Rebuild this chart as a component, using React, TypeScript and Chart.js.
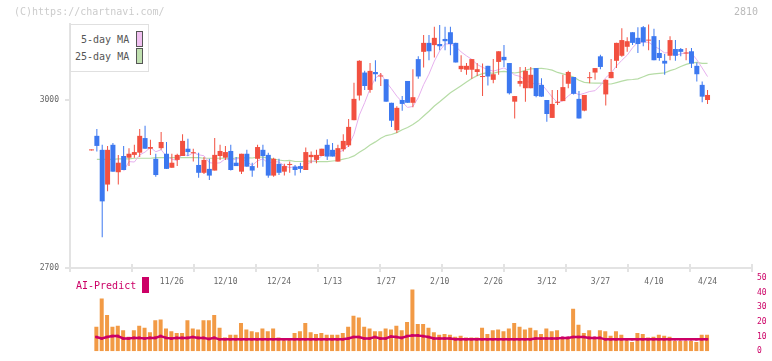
import React, { useEffect, useRef } from 'react';
import { Chart, registerables } from 'chart.js';
Chart.register(...registerables);

// ---- price data (index 0..115) ----
const opens = [
  2910, 2936, 2911, 2849, 2920, 2871, 2900, 2897, 2902, 2906,
  2932, 2913, 2895, 2914, 2904, 2879, 2893, 2900, 2913, 2905,
  2884, 2870, 2877, 2874, 2900, 2897, 2909, 2888, 2872, 2904,
  2882, 2895, 2911, 2902, 2865, 2886, 2872, 2884, 2881, 2882,
  2875, 2898, 2893, 2900, 2920, 2911, 2890, 2912, 2919, 2964,
  3008, 3049, 3018, 3050, 3042, 3037, 2995, 2946, 3000, 3034,
  2995, 3073, 3086, 3102, 3098, 3100, 3109, 3121, 3102, 3055,
  3054, 3054, 3050, 3041, 3061, 3036, 3068, 3077, 3066, 2997,
  3029, 3021, 3021, 3057, 3027, 3000, 2968, 2995, 2998, 3029,
  3041, 3002, 2981, 3039, 3049, 3078, 3010, 3039, 3070, 3079,
  3095, 3121, 3111, 3130, 3106, 3114, 3084, 3070, 3079, 3091,
  3091, 3083, 3087, 3061, 3027, 3000,
];
const closes = [
  2910, 2918, 2819, 2911, 2872, 2888, 2875, 2904, 2907, 2936,
  2913, 2916, 2866, 2925, 2877, 2888, 2902, 2927, 2907, 2905,
  2870, 2893, 2865, 2902, 2909, 2907, 2875, 2882, 2904, 2881,
  2874, 2916, 2900, 2865, 2895, 2870, 2882, 2884, 2875, 2877,
  2907, 2902, 2902, 2913, 2899, 2899, 2914, 2927, 2952, 3002,
  3070, 3025, 3052, 3046, 3042, 2997, 2963, 2986, 2993, 2995,
  3005, 3042, 3102, 3087, 3111, 3096, 3105, 3100, 3067, 3061,
  3061, 3073, 3055, 3041, 3042, 3046, 3087, 3071, 3012, 3007,
  3034, 3052, 3045, 3007, 3006, 2975, 2993, 2995, 3023, 3050,
  3011, 2967, 3009, 3039, 3057, 3059, 3036, 3050, 3102, 3107,
  3105, 3102, 3100, 3103, 3106, 3071, 3075, 3065, 3107, 3079,
  3086, 3083, 3065, 3046, 3006, 3009,
];
const highs = [
  2910, 2948, 2920, 2918, 2923, 2902, 2918, 2914, 2920, 2948,
  2954, 2929, 2904, 2943, 2925, 2904, 2904, 2939, 2931, 2913,
  2906, 2898, 2895, 2932, 2920, 2918, 2920, 2898, 2904, 2911,
  2888, 2920, 2920, 2906, 2897, 2895, 2886, 2890, 2884, 2888,
  2915, 2908, 2911, 2913, 2930, 2923, 2920, 2939, 2966, 3031,
  3071, 3052, 3066, 3071, 3048, 3037, 2995, 2989, 3007, 3034,
  3055, 3078, 3116, 3116, 3131, 3134, 3131, 3131, 3102, 3080,
  3066, 3073, 3066, 3065, 3061, 3073, 3087, 3098, 3066, 3007,
  3059, 3059, 3059, 3057, 3039, 3000, 3018, 3018, 3045, 3052,
  3041, 3016, 3009, 3050, 3057, 3081, 3037, 3073, 3102, 3128,
  3112, 3121, 3130, 3132, 3135, 3127, 3107, 3082, 3114, 3107,
  3093, 3093, 3093, 3067, 3033, 3018,
];
const lows = [
  2910, 2908, 2755, 2837, 2872, 2849, 2875, 2882, 2897, 2898,
  2913, 2902, 2863, 2911, 2877, 2879, 2882, 2900, 2900, 2890,
  2861, 2868, 2857, 2874, 2893, 2893, 2874, 2882, 2868, 2881,
  2863, 2879, 2881, 2861, 2863, 2866, 2865, 2870, 2865, 2870,
  2875, 2887, 2887, 2900, 2893, 2899, 2890, 2908, 2916, 2964,
  2999, 3018, 3013, 3033, 3025, 2997, 2952, 2941, 2981, 2995,
  2987, 3038, 3058, 3071, 3076, 3089, 3089, 3080, 3067, 3050,
  3045, 3038, 3043, 3007, 3026, 3030, 3045, 3059, 3010, 2967,
  3024, 2997, 3021, 3005, 3006, 2961, 2968, 2991, 2998, 3021,
  3010, 2967, 2980, 3030, 3036, 3055, 2990, 3039, 3057, 3077,
  3086, 3098, 3084, 3096, 3089, 3071, 3070, 3045, 3071, 3070,
  3078, 3071, 3057, 3033, 2996, 2993,
];
const ma5 = [
  null, null, null, null, null, null, 2873.0, 2890.0, 2889.2, 2902.0,
  2907.0, 2915.2, 2907.6, 2911.2, 2899.4, 2894.4, 2891.6, 2903.8, 2900.2, 2905.8,
  2902.2, 2900.4, 2888.0, 2887.0, 2887.8, 2895.2, 2891.6, 2895.0, 2895.4, 2889.8,
  2883.2, 2891.4, 2895.0, 2887.2, 2890.0, 2889.2, 2882.4, 2879.2, 2881.2, 2877.6,
  2885.0, 2889.0, 2892.6, 2900.2, 2904.6, 2903.0, 2905.4, 2910.4, 2918.2, 2938.8,
  2973.0, 2995.2, 3020.2, 3039.0, 3047.0, 3032.4, 3020.0, 3006.8, 2996.2, 2986.8,
  2988.4, 3004.2, 3027.4, 3046.2, 3069.4, 3087.6, 3100.2, 3099.8, 3095.8, 3085.8,
  3078.8, 3072.4, 3063.4, 3058.2, 3054.4, 3051.4, 3054.2, 3057.4, 3051.6, 3044.6,
  3042.2, 3035.2, 3030.0, 3029.0, 3028.8, 3017.0, 3005.2, 2995.2, 2998.4, 3007.2,
  3014.4, 3009.2, 3012.0, 3015.2, 3016.6, 3026.2, 3040.0, 3048.2, 3060.8, 3070.8,
  3080.0, 3093.2, 3103.2, 3103.4, 3103.2, 3096.4, 3091.0, 3084.0, 3084.8, 3079.4,
  3082.4, 3084.0, 3084.0, 3071.8, 3057.2, 3041.8,
];
const ma25 = [
  null, 2894, 2894, 2894, 2894, 2895, 2895, 2895, 2896, 2896,
  2896, 2896, 2897, 2897, 2897, 2897, 2897, 2897, 2897, 2897,
  2897, 2896, 2896, 2896, 2896, 2896.1, 2894.4, 2896.9, 2896.6, 2897.0,
  2896.4, 2898.0, 2897.9, 2896.2, 2894.6, 2892.8, 2891.5, 2892.2, 2890.2, 2890.2,
  2891.0, 2891.0, 2890.0, 2890.2, 2890.0, 2891.1, 2892.0, 2894.4, 2896.4, 2900.2,
  2906.7, 2912.7, 2919.5, 2925.2, 2931.6, 2936.5, 2938.4, 2941.8, 2947.0, 2951.0,
  2956.4, 2962.8, 2971.5, 2980.0, 2989.3, 2996.9, 3005.0, 3012.9, 3019.1, 3025.6,
  3032.0, 3038.4, 3043.5, 3047.1, 3048.7, 3047.7, 3050.2, 3051.0, 3049.6, 3048.2,
  3049.7, 3053.2, 3055.6, 3056.2, 3056.6, 3055.4, 3053.4, 3049.2, 3046.6, 3044.2,
  3040.8, 3035.2, 3031.6, 3030.5, 3030.3, 3030.2, 3028.8, 3028.6, 3031.0, 3033.6,
  3036.0, 3036.6, 3037.7, 3041.4, 3045.3, 3046.8, 3047.7, 3048.5, 3052.5, 3055.4,
  3059.9, 3063.5, 3066.3, 3067.2, 3065.4, 3065.4,
];

// ---- volume panel ----
const volumes = [
  null, 16.7, 36.0, 24.8, 16.7, 17.4, 14.3, 9.9, 14.3, 17.4,
  16.1, 13.0, 21.1, 21.7, 15.5, 13.6, 12.4, 12.4, 21.1, 15.5,
  14.9, 21.1, 21.1, 24.8, 16.1, 9.3, 11.2, 11.2, 19.2, 14.9,
  13.6, 13.0, 15.5, 13.6, 15.5, 9.3, 7.4, 7.4, 12.4, 13.6,
  19.2, 13.0, 11.8, 12.4, 11.2, 11.2, 11.2, 12.4, 16.7, 24.2,
  23.0, 16.7, 15.5, 13.6, 13.6, 15.5, 14.9, 17.4, 14.3, 19.9,
  42.2, 18.6, 18.6, 16.1, 13.0, 11.2, 11.8, 11.2, 9.9, 10.5,
  9.3, 9.3, 9.3, 16.1, 11.8, 14.3, 14.9, 13.6, 15.5, 19.2,
  16.7, 14.9, 16.1, 14.3, 11.8, 15.5, 13.6, 14.3, 9.3, 8.7,
  29.0, 18.0, 12.4, 14.3, 9.3, 14.3, 13.6, 10.5, 13.6, 11.2,
  7.4, 6.2, 12.4, 11.8, 9.3, 9.9, 11.2, 10.5, 9.9, 7.0,
  7.0, 7.0, 7.0, 6.2, 11.2, 11.2,
];
const aiPredict = [
  null, 9.7, 8.7, 9.7, 10.3, 10.3, 8.7, 8.7, 9.1, 9.1,
  8.7, 9.1, 9.1, 10.3, 9.1, 8.7, 9.1, 9.1, 9.1, 9.7,
  9.1, 9.1, 8.3, 9.1, 8.1, 8.1, 8.1, 8.1, 8.1, 8.1,
  8.1, 8.1, 8.1, 8.1, 8.1, 8.1, 8.1, 8.1, 8.1, 8.1,
  8.1, 8.1, 8.1, 8.1, 8.1, 8.1, 8.1, 8.1, 8.7, 9.7,
  9.7, 8.7, 8.7, 9.7, 8.7, 8.7, 10.0, 9.7, 9.1, 10.3,
  10.8, 10.8, 10.3, 9.7, 8.7, 8.7, 8.7, 8.7, 8.1, 8.1,
  8.1, 8.1, 8.1, 8.1, 8.1, 8.1, 8.1, 8.1, 8.1, 8.1,
  8.1, 8.1, 8.1, 8.7, 8.7, 8.7, 8.7, 8.7, 9.1, 9.1,
  9.7, 9.7, 9.7, 9.1, 9.1, 9.1, 8.1, 8.1, 8.1, 8.1,
  8.1, 8.1, 8.1, 8.1, 8.1, 8.1, 8.1, 8.1, 8.1, 8.1,
  8.1, 8.1, 8.1, 8.1, 8.1, 8.1,
];

// ---- axis ticks ----
const dateTickIdx = [15, 25, 35, 45, 55, 65, 75, 85, 95, 105, 115];
const dateTickLabels = ['11/26', '12/10', '12/24', '1/13', '1/27', '2/10', '2/26', '3/12', '3/27', '4/10', '4/24'];
const priceTicks = [2700, 3000];
const volumeTicks = [0, 10, 20, 30, 40, 50];

const MONO = "'DejaVu Sans Mono', monospace";
const AXIS = '#e3e3e3';
const UP = '#f25040';
const DOWN = '#3c78f0';
const X_MIN = -4.013;
const X_MAX = 123.3;
const Y_MIN = 2700;
const Y_MAX = 3135.7;

export default function App() {
  const priceRef = useRef<HTMLCanvasElement>(null);
  const volRef = useRef<HTMLCanvasElement>(null);

  useEffect(() => {
    const idx = closes.map((_, i) => i);
    const colors = idx.map((i) => (closes[i] >= opens[i] ? UP : DOWN));
    const font = { family: MONO, size: 8 };
    const gridTicks = (ax: any) => {
      const t = [];
      for (let k = 0; k <= 11; k++) t.push({ value: X_MIN + (k * (X_MAX - X_MIN)) / 11 });
      ax.ticks = t;
    };

    const price = new Chart(priceRef.current as HTMLCanvasElement, {
      type: 'bar',
      data: {
        datasets: [
          {
            type: 'bar',
            label: 'body',
            data: idx.map((i) => ({ x: i, y: [opens[i], closes[i]] })) as any,
            backgroundColor: colors,
            barThickness: 5,
            minBarLength: 1,
            grouped: false,
            inflateAmount: 0,
            order: 1,
          } as any,
          {
            type: 'bar',
            label: 'wick',
            data: idx.map((i) => ({ x: i, y: [lows[i], highs[i]] })) as any,
            backgroundColor: colors,
            barThickness: 1,
            minBarLength: 1,
            grouped: false,
            inflateAmount: 0,
            order: 2,
          } as any,
          {
            type: 'line',
            label: '5-day MA',
            data: idx.map((i) => ({ x: i, y: ma5[i] })) as any,
            borderColor: '#e6b0ee',
            borderWidth: 1,
            pointRadius: 0,
            order: 3,
          },
          {
            type: 'line',
            label: '25-day MA',
            data: idx.map((i) => ({ x: i, y: ma25[i] })) as any,
            borderColor: '#b6dca6',
            borderWidth: 1.2,
            pointRadius: 0,
            order: 4,
          },
        ],
      },
      options: {
        responsive: false,
        animation: false,
        layout: { padding: { left: 0, right: 20, top: 24, bottom: 6 } },
        plugins: { legend: { display: false }, tooltip: { enabled: false } },
        scales: {
          x: {
            type: 'linear',
            min: X_MIN,
            max: X_MAX,
            offset: false,
            position: 'bottom',
            afterFit: (s: any) => { s.height = 6; },
            afterBuildTicks: gridTicks,
            ticks: { display: false },
            grid: { offset: false, drawOnChartArea: false, drawTicks: true, tickLength: 4, color: AXIS, lineWidth: 2 },
            border: { display: true, color: AXIS, width: 2 },
          },
          xin: {
            type: 'linear',
            min: X_MIN,
            max: X_MAX,
            offset: false,
            position: { y: Y_MIN },
            afterBuildTicks: gridTicks,
            ticks: { display: false },
            grid: { offset: false, drawOnChartArea: false, drawTicks: true, tickLength: -4, color: AXIS, lineWidth: 2 },
            border: { display: false },
          },
          xd: {
            type: 'linear',
            min: X_MIN,
            max: X_MAX,
            offset: false,
            position: 'bottom',
            afterFit: (s: any) => { s.height = 20; },
            afterBuildTicks: (ax: any) => { ax.ticks = dateTickIdx.map((v) => ({ value: v })); },
            grid: { display: false, drawTicks: false },
            border: { display: false },
            ticks: {
              autoSkip: false,
              maxRotation: 0,
              padding: 3,
              color: '#666',
              font,
              callback: (v: any) => {
                const k = dateTickIdx.indexOf(Number(v));
                return k >= 0 ? dateTickLabels[k] : '';
              },
            },
          },
          y: {
            type: 'linear',
            min: Y_MIN,
            max: Y_MAX,
            position: 'left',
            afterFit: (s: any) => { s.width = 70; },
            afterBuildTicks: (ax: any) => { ax.ticks = priceTicks.map((v) => ({ value: v })); },
            ticks: { color: '#666', font, padding: 6, callback: (v: any) => String(v) },
            grid: { drawOnChartArea: false, tickLength: 5, color: AXIS, lineWidth: 2 },
            border: { color: AXIS, width: 2 },
          },
          yin: {
            type: 'linear',
            min: Y_MIN,
            max: Y_MAX,
            position: { x: X_MIN },
            afterBuildTicks: (ax: any) => { ax.ticks = priceTicks.map((v) => ({ value: v })); },
            ticks: { display: false },
            grid: { drawOnChartArea: false, drawTicks: true, tickLength: 4, color: AXIS, lineWidth: 2 },
            border: { display: false },
          },
        },
      } as any,
    });

    const vol = new Chart(volRef.current as HTMLCanvasElement, {
      type: 'bar',
      data: {
        datasets: [
          {
            type: 'line',
            label: 'AI-Predict',
            data: idx.map((i) => ({ x: i, y: aiPredict[i] })) as any,
            borderColor: '#cc0066',
            borderWidth: 2.5,
            pointStyle: 'rect',
            pointRadius: 1.8,
            pointBackgroundColor: '#cc0066',
            pointBorderWidth: 0,
            order: 0,
          },
          {
            type: 'bar',
            label: 'volume',
            data: idx.map((i) => ({ x: i, y: volumes[i] })) as any,
            backgroundColor: '#f29a45',
            barThickness: 4,
            inflateAmount: 0,
            order: 1,
          } as any,
        ],
      },
      options: {
        responsive: false,
        animation: false,
        layout: { padding: { left: 70, right: 0, top: 278, bottom: 2 } },
        plugins: { legend: { display: false }, tooltip: { enabled: false } },
        scales: {
          x: { type: 'linear', display: false, min: X_MIN + 0.093, max: X_MAX + 0.093, offset: false, grid: { offset: false } },
          y: {
            type: 'linear',
            position: 'right',
            min: 0,
            max: 50,
            afterFit: (s: any) => { s.width = 20; },
            afterBuildTicks: (ax: any) => { ax.ticks = volumeTicks.map((v) => ({ value: v })); },
            ticks: { color: '#cc0066', font, padding: 5, callback: (v: any) => String(v) },
            grid: { display: false, drawTicks: false },
            border: { display: false },
          },
        },
      } as any,
    });

    return () => {
      price.destroy();
      vol.destroy();
    };
  }, []);

  const txt = (extra: React.CSSProperties): React.CSSProperties => ({
    position: 'absolute',
    fontFamily: MONO,
    fontSize: 10,
    lineHeight: '12px',
    whiteSpace: 'nowrap',
    ...extra,
  });

  return (
    <div style={{ position: 'absolute', left: 0, top: 0, width: 772, height: 361, overflow: 'hidden', background: '#fff' }}>
      <canvas ref={volRef} width={772} height={361} style={{ position: 'absolute', left: 0, top: 0, width: 772, height: 361 }} />
      <canvas ref={priceRef} width={772} height={300} style={{ position: 'absolute', left: 0, top: 0, width: 772, height: 300 }} />
      <div style={txt({ left: 14, top: 6, color: '#cccccc' })}>(C)https://chartnavi.com/</div>
      <div style={txt({ left: 734, top: 6, color: '#bbbbbb' })}>2810</div>
      <div style={{ position: 'absolute', left: 70, top: 24, width: 79, height: 48, boxSizing: 'border-box', border: '1px solid #e0e0e0', background: '#fff' }} />
      <div style={txt({ left: 81, top: 34, color: '#555' })}>5-day MA</div>
      <div style={txt({ left: 75, top: 51, color: '#555' })}>25-day MA</div>
      <div style={{ position: 'absolute', left: 136, top: 31, width: 7, height: 16, boxSizing: 'border-box', border: '1px solid #555', background: '#f0c0f0' }} />
      <div style={{ position: 'absolute', left: 136, top: 48, width: 7, height: 16, boxSizing: 'border-box', border: '1px solid #555', background: '#c0e0b0' }} />
      <div style={txt({ left: 76, top: 280, color: '#cc0066' })}>AI-Predict</div>
      <div style={{ position: 'absolute', left: 142, top: 277, width: 7, height: 16, background: '#cc0066' }} />
    </div>
  );
}
